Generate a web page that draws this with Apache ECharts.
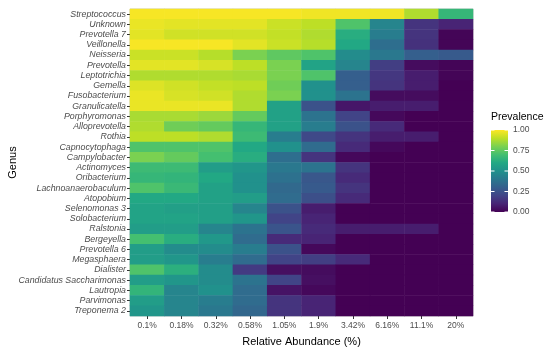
<!DOCTYPE html>
<html><head><meta charset="utf-8">
<script src="https://cdn.jsdelivr.net/npm/echarts@6/dist/echarts.min.js"></script>
<style>html,body{margin:0;padding:0;background:#fff}#c{width:550px;height:348px}</style>
</head><body><div id="c"></div>
<script>
const genera = ["Streptococcus","Unknown","Prevotella 7","Veillonella","Neisseria","Prevotella","Leptotrichia","Gemella","Fusobacterium","Granulicatella","Porphyromonas","Alloprevotella","Rothia","Capnocytophaga","Campylobacter","Actinomyces","Oribacterium","Lachnoanaerobaculum","Atopobium","Selenomonas 3","Solobacterium","Ralstonia","Bergeyella","Prevotella 6","Megasphaera","Dialister","Candidatus Saccharimonas","Lautropia","Parvimonas","Treponema 2"];
const thresholds = ["0.1%","0.18%","0.32%","0.58%","1.05%","1.9%","3.42%","6.16%","11.1%","20%"];
const prevalence = [
 [0.99,0.99,0.99,0.99,0.99,0.98,0.98,0.98,0.88,0.66],
 [0.97,0.96,0.96,0.96,0.92,0.90,0.72,0.45,0.15,0.10],
 [0.96,0.93,0.93,0.93,0.91,0.88,0.62,0.42,0.15,0.01],
 [0.99,0.99,0.99,0.96,0.92,0.89,0.60,0.36,0.14,0.01],
 [0.92,0.92,0.89,0.80,0.75,0.72,0.48,0.40,0.30,0.28],
 [0.96,0.96,0.94,0.90,0.80,0.58,0.45,0.18,0.03,0.01],
 [0.88,0.88,0.88,0.87,0.80,0.72,0.30,0.16,0.08,0.01],
 [0.95,0.93,0.91,0.90,0.78,0.50,0.30,0.15,0.08,0.00],
 [0.97,0.94,0.93,0.88,0.80,0.50,0.38,0.03,0.03,0.00],
 [0.97,0.97,0.97,0.88,0.57,0.25,0.06,0.08,0.08,0.00],
 [0.87,0.87,0.85,0.76,0.57,0.38,0.20,0.02,0.00,0.00],
 [0.88,0.78,0.76,0.66,0.57,0.42,0.25,0.12,0.00,0.00],
 [0.90,0.90,0.88,0.68,0.42,0.22,0.15,0.08,0.08,0.00],
 [0.72,0.72,0.72,0.60,0.50,0.35,0.12,0.02,0.00,0.00],
 [0.80,0.76,0.70,0.62,0.36,0.15,0.02,0.00,0.00,0.00],
 [0.68,0.68,0.55,0.52,0.40,0.38,0.15,0.00,0.00,0.00],
 [0.66,0.65,0.60,0.50,0.37,0.27,0.12,0.00,0.00,0.00],
 [0.72,0.67,0.57,0.50,0.34,0.28,0.15,0.00,0.00,0.00],
 [0.60,0.60,0.57,0.55,0.35,0.24,0.12,0.00,0.00,0.00],
 [0.58,0.56,0.56,0.45,0.25,0.08,0.00,0.00,0.00,0.00],
 [0.58,0.58,0.56,0.52,0.20,0.10,0.00,0.00,0.00,0.00],
 [0.55,0.55,0.45,0.38,0.26,0.12,0.08,0.08,0.08,0.00],
 [0.70,0.62,0.53,0.35,0.12,0.10,0.00,0.00,0.00,0.00],
 [0.55,0.48,0.48,0.42,0.25,0.02,0.00,0.00,0.00,0.00],
 [0.55,0.52,0.42,0.35,0.20,0.18,0.12,0.00,0.00,0.00],
 [0.72,0.63,0.48,0.17,0.04,0.03,0.00,0.00,0.00,0.00],
 [0.55,0.52,0.48,0.38,0.20,0.04,0.00,0.00,0.00,0.00],
 [0.65,0.45,0.50,0.35,0.05,0.02,0.00,0.00,0.00,0.00],
 [0.55,0.45,0.42,0.35,0.15,0.10,0.00,0.00,0.00,0.00],
 [0.52,0.45,0.40,0.33,0.15,0.10,0.00,0.00,0.00,0.00]
];
const legendTicks = ["1.00","0.75","0.50","0.25","0.00"];
const viridis = ["#440154","#482475","#414487","#355f8d","#2a788e","#21918c","#22a884","#44bf70","#7ad151","#bddf26","#fde725"];

const data = [];
prevalence.forEach((row, yi) => row.forEach((v, xi) => data.push([xi, yi, v])));

const chart = echarts.init(document.getElementById('c'), null, {renderer: 'canvas'});
const font = 'Liberation Sans, Arial, sans-serif';
const barX = 491, barY = 130, barW = 17, barH = 82;
const graphics = [
  {type:'text', left: 491, top: 112, style:{text:'Prevalence', font:'10.5px ' + font, fill:'#000'}},
  {type:'rect', shape:{x:barX, y:barY, width:barW, height:barH},
   style:{fill: new echarts.graphic.LinearGradient(0,1,0,0, viridis.map((c,i)=>({offset:i/(viridis.length-1), color:c})))}}
];
legendTicks.forEach((t, i) => {
  const y = barY + barH * i / (legendTicks.length - 1);
  graphics.push({type:'text', style:{text:t, x:513, y:y, font:'8.5px ' + font, fill:'#4d4d4d', textVerticalAlign:'middle'}});
  graphics.push({type:'line', shape:{x1:barX, y1:y, x2:barX+3.5, y2:y}, style:{stroke:'#fff', lineWidth:1}});
  graphics.push({type:'line', shape:{x1:barX+barW-3.5, y1:y, x2:barX+barW, y2:y}, style:{stroke:'#fff', lineWidth:1}});
});

chart.setOption({
  animation: false,
  backgroundColor: '#fff',
  grid: {left: 130, top: 9, width: 343, height: 307, containLabel: false, outerBoundsMode: 'none', show: true, borderColor: '#c8c8c8', borderWidth: 1, backgroundColor: 'transparent'},
  xAxis: {
    type: 'category', data: thresholds,
    name: 'Relative Abundance (%)', nameLocation: 'middle', nameGap: 20, nameMoveOverlap: false,
    nameTextStyle: {fontFamily: font, fontSize: 11, color: '#000'},
    axisLine: {show: false},
    axisTick: {show: true, alignWithLabel: true, interval: 0, length: 3, lineStyle: {color: '#333'}},
    axisLabel: {interval: 0, fontFamily: font, fontSize: 8.5, color: '#4d4d4d', margin: 5},
    splitLine: {show: false}
  },
  yAxis: {
    type: 'category', data: genera, inverse: true,
    name: 'Genus', nameLocation: 'middle', nameGap: 112, nameRotate: 90, nameMoveOverlap: false,
    nameTextStyle: {fontFamily: font, fontSize: 11, color: '#000'},
    axisLine: {show: false},
    axisTick: {show: true, alignWithLabel: true, interval: 0, length: 3, lineStyle: {color: '#333'}},
    axisLabel: {interval: 0, fontFamily: font, fontSize: 8.8, fontStyle: 'italic', color: '#4d4d4d', margin: 4},
    splitLine: {show: false}
  },
  visualMap: {show: false, min: 0, max: 1, dimension: 2, inRange: {color: viridis}},
  series: [{type: 'heatmap', data: data, itemStyle: {borderWidth: 0}, emphasis: {disabled: true}}],
  graphic: graphics
});
</script></body></html>
